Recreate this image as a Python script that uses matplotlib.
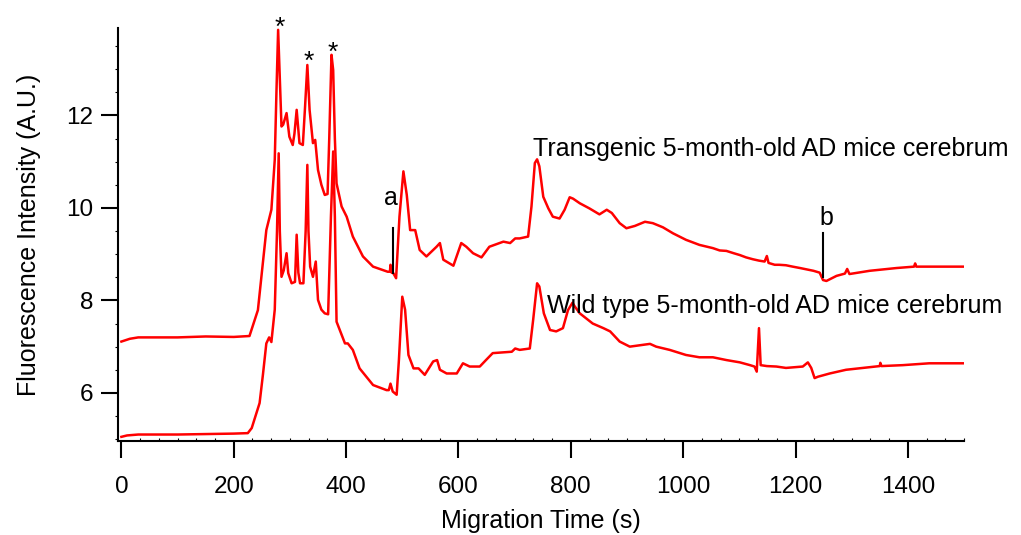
import matplotlib
matplotlib.use("Agg")
import matplotlib.pyplot as plt
from matplotlib.ticker import MultipleLocator

plt.rcParams['font.family'] = ['Liberation Sans', 'DejaVu Sans']

# Transgenic 5-month-old AD mice cerebrum (upper trace)
tg_time = [0, 15, 30, 100, 150, 200, 228, 243, 250, 258, 267, 273, 276, 279, 282, 285, 288,
           294, 299, 305, 308, 312, 317, 323, 327, 331, 335, 341, 345, 350, 356, 362, 367,
           370, 374, 377, 380, 383, 392, 401, 412, 430, 448, 474, 478, 479, 481, 484, 489,
           495, 502, 508, 514, 523, 531, 543, 561, 567, 573, 591, 605, 614, 626, 641, 655,
           680, 692, 701, 709, 724, 730, 736, 740, 744, 751, 760, 768, 780, 789, 798, 804,
           816, 833, 851, 864, 873, 887, 899, 914, 932, 946, 964, 982, 1005, 1029, 1053,
           1065, 1077, 1090, 1101, 1112, 1124, 1135, 1145, 1149, 1152, 1163, 1171, 1183,
           1195, 1208, 1220, 1232, 1243, 1249, 1255, 1273, 1288, 1292, 1296, 1332, 1380,
           1411, 1413, 1415, 1451, 1498]
tg_signal = [7.11, 7.17, 7.20, 7.20, 7.22, 7.21, 7.23, 7.79, 8.60, 9.52, 9.96, 11.04, 12.50,
             13.85, 12.80, 11.76, 11.80, 12.05, 11.54, 11.36, 11.60, 12.12, 11.40, 11.36,
             12.20, 13.09, 12.12, 11.40, 11.47, 10.82, 10.50, 10.28, 10.30, 11.50, 13.31,
             12.98, 11.50, 10.53, 10.03, 9.81, 9.38, 8.95, 8.73, 8.62, 8.62, 8.77, 8.60,
             8.59, 8.48, 9.81, 10.79, 10.28, 9.52, 9.52, 9.09, 8.95, 9.16, 9.24, 8.88, 8.75,
             9.24, 9.16, 9.02, 8.93, 9.16, 9.27, 9.24, 9.34, 9.34, 9.38, 10.03, 10.97, 11.05,
             10.90, 10.24, 9.99, 9.81, 9.77, 9.96, 10.23, 10.20, 10.10, 9.99, 9.86, 9.96,
             9.89, 9.67, 9.56, 9.61, 9.70, 9.67, 9.58, 9.45, 9.31, 9.20, 9.13, 9.08, 9.07,
             9.02, 8.98, 8.93, 8.89, 8.86, 8.84, 8.96, 8.81, 8.77, 8.77, 8.76, 8.73, 8.70,
             8.67, 8.64, 8.60, 8.44, 8.42, 8.53, 8.58, 8.68, 8.57, 8.64, 8.70, 8.73, 8.80,
             8.73, 8.73, 8.73]

# Wild type 5-month-old AD mice cerebrum (lower trace)
wt_time = [0, 10, 30, 100, 150, 200, 225, 232, 246, 252, 258, 263, 267, 273, 277, 280, 282,
           285, 289, 294, 297, 303, 309, 312, 315, 318, 324, 328, 331, 333, 336, 341, 346,
           350, 356, 362, 368, 373, 377, 380, 383, 398, 403, 412, 424, 436, 448, 472, 476,
           479, 483, 490, 494, 500, 505, 511, 520, 529, 540, 555, 562, 567, 579, 597, 608,
           620, 638, 649, 661, 695, 701, 709, 727, 733, 740, 744, 752, 763, 774, 786, 795,
           803, 807, 816, 839, 858, 870, 887, 905, 923, 941, 952, 976, 1005, 1029, 1053,
           1077, 1101, 1119, 1127, 1131, 1135, 1138, 1149, 1166, 1183, 1213, 1222, 1228,
           1234, 1240, 1261, 1290, 1320, 1350, 1351, 1353, 1391, 1438, 1498]
wt_signal = [5.05, 5.08, 5.10, 5.10, 5.11, 5.12, 5.13, 5.24, 5.78, 6.40, 7.07, 7.20, 7.10,
             7.80, 9.50, 11.18, 9.50, 8.51, 8.65, 9.02, 8.59, 8.37, 8.40, 9.42, 8.60, 8.37,
             8.37, 9.50, 10.93, 9.50, 8.73, 8.51, 8.84, 8.01, 7.80, 7.72, 7.70, 9.81, 11.22,
             9.81, 7.54, 7.07, 7.07, 6.93, 6.53, 6.35, 6.17, 6.06, 6.06, 6.20, 6.03, 5.96,
             6.71, 8.08, 7.80, 6.82, 6.53, 6.53, 6.39, 6.68, 6.71, 6.50, 6.42, 6.42, 6.64,
             6.57, 6.57, 6.71, 6.86, 6.89, 6.96, 6.93, 6.96, 7.58, 8.37, 8.30, 7.72, 7.36,
             7.33, 7.40, 7.79, 7.95, 7.87, 7.72, 7.50, 7.40, 7.33, 7.11, 7.00, 7.03, 7.06,
             7.00, 6.93, 6.82, 6.77, 6.77, 6.71, 6.66, 6.60, 6.57, 6.46, 7.40, 6.60, 6.58,
             6.57, 6.54, 6.57, 6.66, 6.54, 6.32, 6.35, 6.42, 6.50, 6.54, 6.58, 6.65, 6.58,
             6.60, 6.64, 6.64]

# peak markers (*) and the a / b marks
star_time = [282, 334, 376]
star_level = [13.75, 13.00, 13.21]

fig = plt.figure(figsize=(10.21, 5.35), dpi=100)
ax = fig.add_axes([0.1156, 0.1757, 0.8286, 0.772])

ax.plot(tg_time, tg_signal, color="#ff0000", lw=1.8)
ax.plot(wt_time, wt_signal, color="#ff0000", lw=1.8)

ax.set_xlim(-6, 1500)
ax.set_ylim(4.96, 13.89)

ax.spines["top"].set_visible(False)
ax.spines["right"].set_visible(False)
ax.spines["left"].set_linewidth(1.5)
ax.spines["bottom"].set_linewidth(1.5)

ax.xaxis.set_major_locator(MultipleLocator(200))
ax.xaxis.set_minor_locator(MultipleLocator(200 / 6))
ax.yaxis.set_major_locator(MultipleLocator(2))
ax.yaxis.set_minor_locator(MultipleLocator(0.5))
ax.tick_params(axis="both", which="major", length=12, width=1.5, labelsize=17.5)
ax.tick_params(axis="x", which="major", pad=13)
ax.tick_params(axis="y", which="major", pad=6)
ax.tick_params(axis="x", which="minor", direction="in", length=2, width=0.8)
ax.tick_params(axis="y", which="minor", direction="out", length=2, width=0.8)

ax.set_xlabel("Migration Time (s)", fontsize=18, labelpad=8)
ax.set_ylabel("Fluorescence Intensity (A.U.)", fontsize=18, labelpad=18)

for t, v in zip(star_time, star_level):
    ax.text(t, v, "*", fontsize=19, ha="center", va="baseline", clip_on=False)

ax.text(480, 10.22, "a", fontsize=18, ha="center", va="center")
ax.plot([484, 484], [8.6, 9.57], color="black", lw=1.5)
ax.text(1255, 9.78, "b", fontsize=18, ha="center", va="center")
ax.plot([1249, 1249], [8.51, 9.45], color="black", lw=1.5)

ax.text(732, 11.12, "Transgenic 5-month-old AD mice cerebrum", fontsize=18,
        ha="left", va="baseline", clip_on=False)
ax.text(757, 7.73, "Wild type 5-month-old AD mice cerebrum", fontsize=18,
        ha="left", va="baseline", clip_on=False)

fig.savefig("out.png", dpi=100)
